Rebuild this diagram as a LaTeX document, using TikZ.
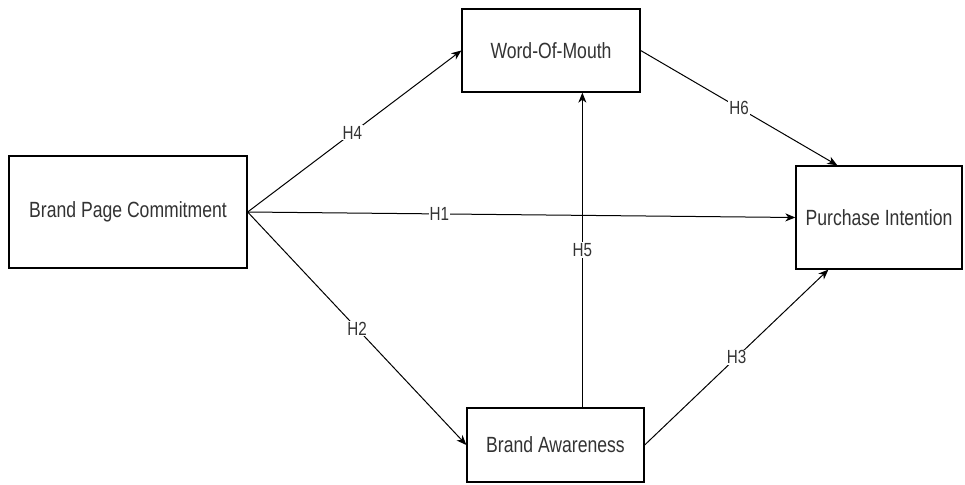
\documentclass[tikz,border=0pt]{standalone}
\usepackage{fontspec}
\setmainfont{Liberation Sans}[FakeStretch=0.8]
\usetikzlibrary{arrows.meta,calc}
\begin{document}
\begin{tikzpicture}[x=1pt,y=-1pt,
  box/.style={draw=black, line width=1.3pt, fill=white, inner sep=0pt, font=\fontsize{22}{24}\selectfont, text=black!80},
  conn/.style={draw=black, line width=1pt, -{Stealth[length=10pt,width=8pt,inset=3pt]}},
  hlab/.style={fill=white, inner sep=1pt, font=\fontsize{19}{21}\selectfont, text=black!80}]
\useasboundingbox (0,0) rectangle (965,484);
\node[box, minimum width=238pt, minimum height=112pt] (bpc) at (128,212) {Brand Page Commitment};
\node[box, minimum width=178pt, minimum height=83pt] (wom) at (551,50.5) {Word-Of-Mouth};
\node[box, minimum width=166pt, minimum height=103pt] (pi) at (879,217.5) {Purchase Intention};
\node[box, minimum width=177pt, minimum height=74pt] (ba) at (555.5,445) {Brand Awareness};
\coordinate (piTop) at ($(pi.north west)+(42,0)$);
\coordinate (piBot) at ($(pi.south west)+(33,0)$);
\coordinate (baTop) at ($(ba.north west)+(116,0)$);
\coordinate (womBot) at ($(wom.south west)+(121,0)$);
\draw[conn] (bpc.east) -- node[hlab, pos=0.49] (h4) {H4} (wom.west);
\draw[conn] (bpc.east) -- node[hlab, pos=0.35] (h1) {H1} (pi.west);
\draw[conn] (bpc.east) -- node[hlab, pos=0.5] (h2) {H2} (ba.west);
\draw[conn] (wom.east) -- node[hlab, pos=0.5] (h6) {H6} (piTop);
\draw[conn] (ba.east) -- node[hlab, pos=0.5] (h3) {H3} (piBot);
\draw[conn] (baTop) -- node[hlab, pos=0.5] (h5) {H5} (womBot);
\end{tikzpicture}
\end{document}
